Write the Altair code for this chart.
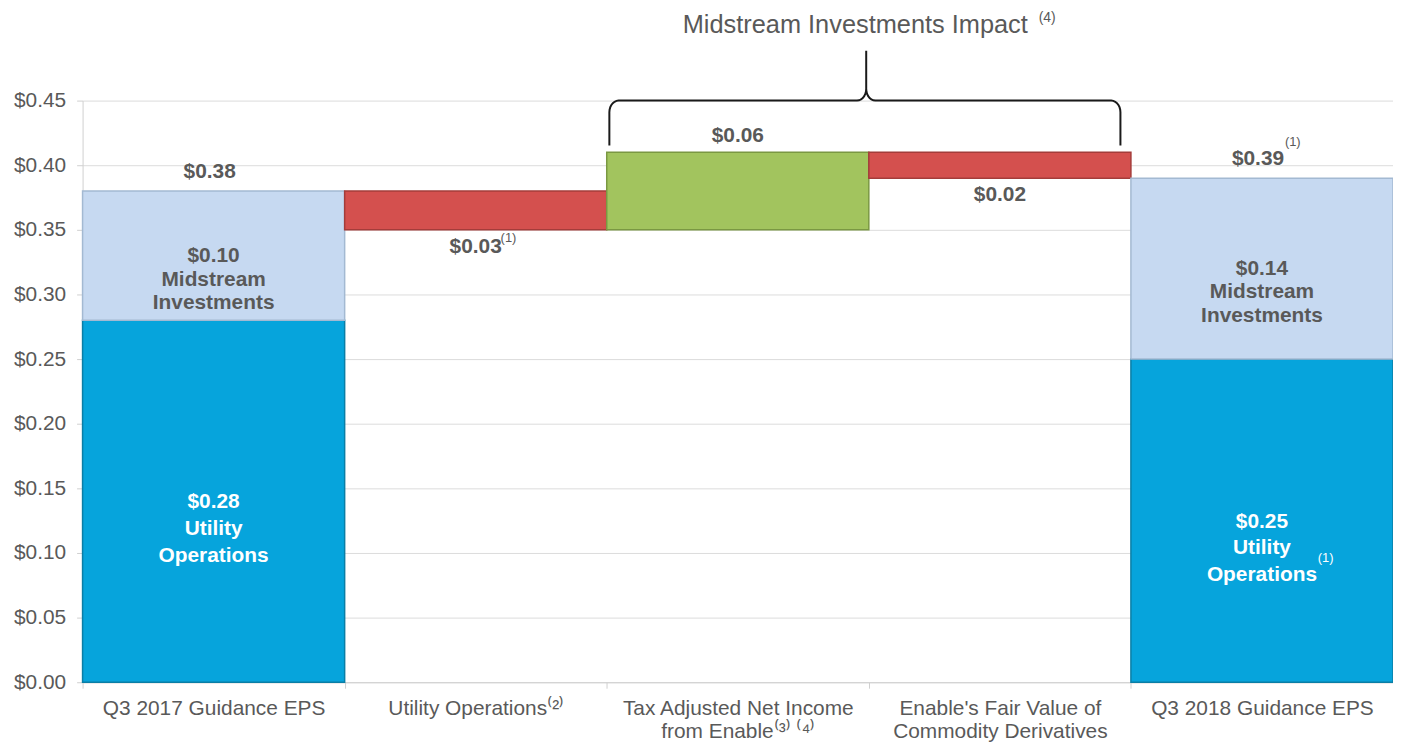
import altair as alt
import pandas as pd
import numpy as np

# ---------------- data ----------------
categories = [
    "Q3 2017 Guidance EPS",
    "Utility Operations⁽²⁾",
    "Tax Adjusted Net Income|from Enable⁽³⁾ ⁽⁴⁾",
    "Enable's Fair Value of|Commodity Derivatives",
    "Q3 2018 Guidance EPS",
]

seg_cat = [0, 0, 1, 2, 3, 4, 4]
seg_start = [0.00, 0.28, 0.35, 0.35, 0.39, 0.00, 0.25]
seg_end = [0.28, 0.38, 0.38, 0.41, 0.41, 0.25, 0.39]
seg_kind = ["Utility", "Midstream", "Decrease", "Increase", "Decrease", "Utility", "Midstream"]
seg_name = ["Utility|Operations", "Midstream|Investments", "", "", "", "Utility|Operations", "Midstream|Investments"]

kinds = ["Utility", "Midstream", "Decrease", "Increase"]
kind_fill = ["#06A4DC", "#C6D9F1", "#D4504E", "#A2C45E"]
kind_stroke = ["#0A7EA6", "#A3B9D2", "#A43C3A", "#7A9842"]

brace_x = [2.01, 3.96]            # band units (category index)
brace_y = [0.4153, 0.45, 0.4886]  # bottom of arms, bar of brace, peak

title_text = "Midstream Investments Impact"

GRAY = "#595959"
FONT = "Liberation Sans"

# ---------------- tables ----------------
seg = pd.DataFrame({
    "cat": [categories[i] for i in seg_cat],
    "start": seg_start,
    "end": seg_end,
    "kind": seg_kind,
    "name": seg_name,
})
seg["mid"] = (seg["start"] + seg["end"]) / 2
seg["inside"] = ["$%.2f|%s" % (e - s, n) for s, e, n in zip(seg_start, seg_end, seg_name)]

totals = pd.DataFrame({
    "cat": [categories[0], categories[4]],
    "top": [max(seg_end[0:2]), max(seg_end[5:7])],
})
totals["text"] = ["$%.2f" % v for v in totals["top"]]

changes = seg[seg["kind"].isin(["Increase", "Decrease"])].copy()
changes["text"] = ["$%.2f" % (e - s) for s, e in zip(changes["start"], changes["end"])]
changes["anchor"] = np.where(changes["kind"] == "Increase", changes["end"], changes["start"])

# brace geometry (built from its end points)
x0, x1 = brace_x
yb, ym, yp = brace_y
xm = (x0 + x1) / 2 + 0.005
rx, ry = 0.035, 0.009
pts = []
t = np.linspace(0, np.pi / 2, 8)
pts.append((x0, yb))
for a in t:
    pts.append((x0 + rx - rx * np.cos(a), ym - ry + ry * np.sin(a)))
for a in t:
    pts.append((xm - rx + rx * np.sin(a), ym + ry - ry * np.cos(a)))
pts.append((xm, yp))
for a in t[::-1]:
    pts.append((xm + rx - rx * np.sin(a), ym + ry - ry * np.cos(a)))
for a in t[::-1]:
    pts.append((x1 - rx + rx * np.cos(a), ym - ry + ry * np.sin(a)))
pts.append((x1, yb))
brace = pd.DataFrame({"bx": [p[0] for p in pts], "by": [p[1] for p in pts], "o": range(len(pts))})
peak = pd.DataFrame({"bx": [xm], "by": [yp], "t": [title_text]})

# ---------------- chart ----------------
xscale = alt.Scale(domain=categories, paddingInner=0, paddingOuter=0)
yscale = alt.Scale(domain=[0, 0.45], nice=False)
xq = alt.Scale(domain=[0, 5], nice=False, zero=False)

bars = alt.Chart(seg).mark_bar(strokeWidth=1.5).encode(
    x=alt.X("cat:N", scale=xscale, sort=categories, title=None,
            axis=alt.Axis(tickBand="extent", labelAngle=0, labelExpr="split(datum.label, '|')",
                          labelLineHeight=24, labelPadding=9, tickSize=6, grid=False,
                          labelFontSize=21, labelColor=GRAY, labelFont=FONT, labelLimit=0,
                          domainColor="#D0D0D0", tickColor="#D0D0D0", labelBaseline="top")),
    y=alt.Y("start:Q", scale=yscale, title=None,
            axis=alt.Axis(values=[0, 0.05, 0.1, 0.15, 0.2, 0.25, 0.3, 0.35, 0.4, 0.45], format="$.2f",
                          labelFontSize=21, labelColor=GRAY, labelFont=FONT, tickSize=6,
                          labelPadding=11, domainColor="#D0D0D0", tickColor="#D0D0D0",
                          gridColor="#DCDCDC")),
    y2="end:Q",
    color=alt.Color("kind:N", scale=alt.Scale(domain=kinds, range=kind_fill), legend=None),
    stroke=alt.Stroke("kind:N", scale=alt.Scale(domain=kinds, range=kind_stroke), legend=None),
)

xn = alt.X("cat:N", scale=xscale, sort=categories, axis=None)

inside_mid = alt.Chart(seg).transform_filter("datum.kind == 'Midstream'").mark_text(
    font=FONT, fontSize=21, fontWeight="bold", color=GRAY, lineBreak="|", lineHeight=24,
    baseline="middle", dy=0
).encode(x=xn, y=alt.Y("mid:Q", scale=yscale), text="inside:N")

inside_util = alt.Chart(seg).transform_filter("datum.kind == 'Utility'").mark_text(
    font=FONT, fontSize=21, fontWeight="bold", color="white", lineBreak="|", lineHeight=27,
    baseline="middle", dy=1
).encode(x=xn, y=alt.Y("mid:Q", scale=yscale), text="inside:N")

tot = alt.Chart(totals).mark_text(
    font=FONT, fontSize=21, fontWeight="bold", color=GRAY, baseline="middle", dy=-19, dx=-4
).encode(x=xn, y=alt.Y("top:Q", scale=yscale), text="text:N")

inc = alt.Chart(changes).transform_filter("datum.kind == 'Increase'").mark_text(
    font=FONT, fontSize=21, fontWeight="bold", color=GRAY, baseline="middle", dy=-16
).encode(x=xn, y=alt.Y("anchor:Q", scale=yscale), text="text:N")

dec = alt.Chart(changes).transform_filter("datum.kind == 'Decrease'").mark_text(
    font=FONT, fontSize=21, fontWeight="bold", color=GRAY, baseline="middle", dy=17
).encode(x=xn, y=alt.Y("anchor:Q", scale=yscale), text="text:N")

# superscripts
sup1 = alt.Chart(changes.iloc[[0]]).mark_text(
    font=FONT, fontSize=13, color=GRAY, baseline="middle", dx=33, dy=8
).encode(x=xn, y=alt.Y("anchor:Q", scale=yscale), text=alt.value("(1)"))

sup2 = alt.Chart(totals.iloc[[1]]).mark_text(
    font=FONT, fontSize=13, color=GRAY, baseline="middle", dx=31, dy=-36
).encode(x=xn, y=alt.Y("top:Q", scale=yscale), text=alt.value("(1)"))

sup3 = alt.Chart(seg.iloc[[5]]).mark_text(
    font=FONT, fontSize=13, color="white", baseline="middle", dx=64, dy=38
).encode(x=xn, y=alt.Y("mid:Q", scale=yscale), text=alt.value("(1)"))

brace_line = alt.Chart(brace).mark_line(color="#1A1A1A", strokeWidth=2).encode(
    x=alt.X("bx:Q", scale=xq, axis=None),
    y=alt.Y("by:Q", scale=yscale),
    order="o:Q",
)

title = alt.Chart(peak).mark_text(
    font=FONT, fontSize=25.5, color=GRAY, baseline="middle", dx=-11, dy=-26
).encode(x=alt.X("bx:Q", scale=xq, axis=None), y=alt.Y("by:Q", scale=yscale), text="t:N")

title_sup = alt.Chart(peak).mark_text(
    font=FONT, fontSize=14, color=GRAY, baseline="middle", dx=182, dy=-33
).encode(x=alt.X("bx:Q", scale=xq, axis=None), y=alt.Y("by:Q", scale=yscale), text=alt.value("(4)"))

chart = alt.layer(
    bars, inside_mid, inside_util, tot, inc, dec, sup1, sup2, sup3, brace_line, title, title_sup
).resolve_scale(x="independent").properties(
    width=1318, height=585, autosize="none",
    padding={"left": 75, "top": 91, "right": 0, "bottom": 58},
    background="white",
).configure_view(stroke=None)

chart.save("out.html", embed_options={"renderer": "svg", "actions": False})
